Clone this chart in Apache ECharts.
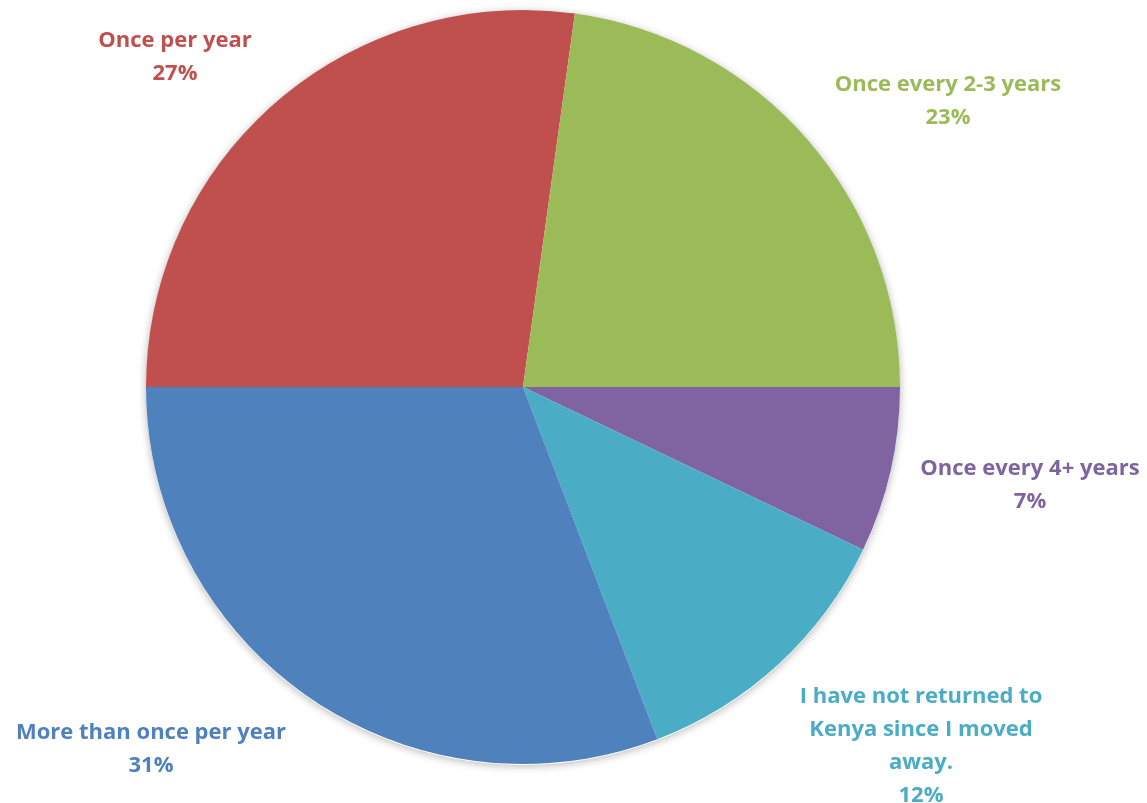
<!DOCTYPE html>
<html>
<head>
<meta charset="utf-8">
<script src="https://cdn.jsdelivr.net/npm/echarts@6/dist/echarts.min.js"></script>
<style>
html, body { margin: 0; padding: 0; background: #fff; }
#main { width: 1147px; height: 803px; }
</style>
</head>
<body>
<div id="main"></div>
<script>
var myChart = echarts.init(document.getElementById('main'));

// clockwise from 3 o'clock, shares
var categories = [
    'Once every 4+ years',
    'I have not returned to\nKenya since I moved\naway.',
    'More than once per year',
    'Once per year',
    'Once every 2-3 years'
];
var values = [7.1, 12.1, 30.8, 27.2, 22.8];
var colors = ['#8064A2', '#4BACC6', '#4F81BD', '#C0504D', '#9BBB59'];
// label centre (x, first line y)
var labelPos = [[1030, 468], [921, 696], [151, 732], [175, 40], [948, 84]];

var option = {
    animation: false,
    series: [
        {
            // soft outer shadow behind the pie
            type: 'pie',
            center: [523, 388],
            radius: 377,
            silent: true,
            data: [{ value: 1, itemStyle: { color: '#fff' } }],
            itemStyle: {
                shadowBlur: 8,
                shadowColor: 'rgba(0,0,0,0.3)',
                shadowOffsetY: 1
            },
            label: { show: false },
            labelLine: { show: false }
        },
        {
            type: 'pie',
            center: [523, 387],
            radius: 377,
            startAngle: 0,
            clockwise: true,
            data: categories.map(function (c, i) {
                return {
                    name: c,
                    value: values[i],
                    itemStyle: { color: colors[i] },
                    label: { color: colors[i] }
                };
            }),
            label: {
                show: true,
                position: 'outside',
                formatter: function (p) {
                    return p.name + '\n' + Math.round(p.percent) + '%';
                },
                fontFamily: 'Open Sans',
                fontWeight: 'bold',
                fontSize: 22,
                lineHeight: 33,
                align: 'center',
                overflow: 'none',
                width: 400
            },
            labelLine: { show: false },
            labelLayout: function (params) {
                var p = labelPos[params.dataIndex];
                return {
                    x: p[0],
                    y: p[1] - 16,
                    align: 'center',
                    verticalAlign: 'top'
                };
            }
        }
    ]
};
myChart.setOption(option);
</script>
</body>
</html>
